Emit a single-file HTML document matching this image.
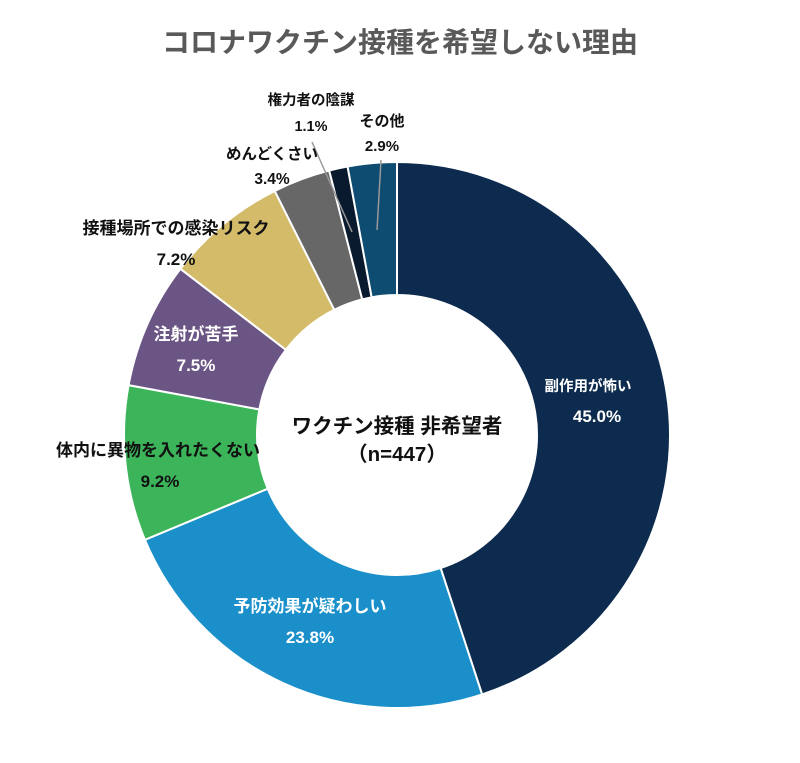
<!DOCTYPE html>
<html><head><meta charset="utf-8"><style>
body{margin:0;background:#fff;width:800px;height:758px;overflow:hidden}
text{font-family:"Liberation Sans","Noto Sans CJK JP",sans-serif;font-weight:bold}
</style></head><body>
<svg id="s" width="800" height="758" viewBox="0 0 800 758">
<text x="400" y="52" text-anchor="middle" font-size="28" fill="#595959">コロナワクチン接種を希望しない理由</text>
<g id="g"></g>
<line x1="312" y1="142" x2="352" y2="232" stroke="#999" stroke-width="1.5"/>
<line x1="381" y1="160" x2="377" y2="230" stroke="#999" stroke-width="1.5"/>
<g font-size="17" text-anchor="middle">
<text x="588" y="391" fill="#fff" font-size="14.5">副作用が怖い</text>
<text x="597" y="422" fill="#fff">45.0%</text>
<text x="310" y="612" fill="#fff">予防効果が疑わしい</text>
<text x="310" y="643" fill="#fff">23.8%</text>
<text x="158" y="456" fill="#111">体内に異物を入れたくない</text>
<text x="160" y="487" fill="#111">9.2%</text>
<text x="196" y="340" fill="#fff">注射が苦手</text>
<text x="196" y="371" fill="#fff">7.5%</text>
<text x="176" y="234" fill="#111">接種場所での感染リスク</text>
<text x="176" y="265" fill="#111">7.2%</text>
<text x="272" y="159" fill="#111" font-size="15.5">めんどくさい</text>
<text x="272" y="184" fill="#111" font-size="15.5">3.4%</text>
<text x="311" y="105" fill="#111" font-size="14.5">権力者の陰謀</text>
<text x="311" y="131" fill="#111" font-size="14.5">1.1%</text>
<text x="382" y="126" fill="#111" font-size="15">その他</text>
<text x="382" y="151" fill="#111" font-size="15">2.9%</text>
<text x="397" y="433" fill="#111" font-size="20.5">ワクチン接種 非希望者</text>
<text x="397" y="461" fill="#111" font-size="20.5">（n=447）</text>
</g>
</svg>
<script>
var d=[[45.0,"#0d2b4e"],[23.8,"#1a8fca"],[9.2,"#3cb45a"],[7.5,"#6b5585"],[7.2,"#d4bb6a"],[3.4,"#676767"],[1.1,"#0a1a2e"],[2.9,"#0f4c72"]];
var cx=397,cy=435,R=273,r=140,tot=100.1,a=0,h="";
function p(rad,t){var an=t/tot*2*Math.PI;return (cx+rad*Math.sin(an)).toFixed(2)+","+(cy-rad*Math.cos(an)).toFixed(2);}
d.forEach(function(x){var b=a+x[0],l=x[0]/tot>0.5?1:0;
h+='<path d="M'+p(R,a)+'A'+R+','+R+' 0 '+l+' 1 '+p(R,b)+'L'+p(r,b)+'A'+r+','+r+' 0 '+l+' 0 '+p(r,a)+'Z" fill="'+x[1]+'" stroke="#fff" stroke-width="2"/>';a=b;});
document.getElementById("g").innerHTML=h;
</script>
</body></html>
